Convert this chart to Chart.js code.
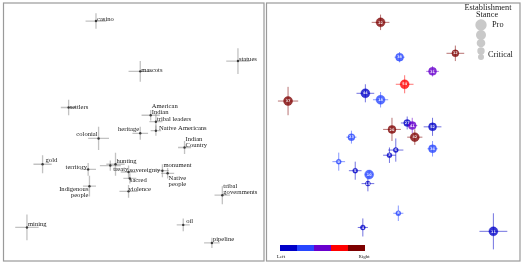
<!DOCTYPE html>
<html>
<head>
<meta charset="utf-8">
<script src="https://cdn.jsdelivr.net/npm/chart.js@4/dist/chart.umd.min.js"></script>
<style>
  body { margin: 0; background: #fff; }
  #wrap { position: relative; width: 523px; height: 264px; }
  canvas { position: absolute; top: 0; }
</style>
</head>
<body>
<div id="wrap">
  <canvas id="words" width="265" height="264" style="left:0"></canvas>
  <canvas id="outlets" width="258" height="264" style="left:265px"></canvas>
</div>
<script>
// left panel: word positions with uncertainty
const words = ['casino', 'statues', 'mascots', 'settlers', 'American Indian', 'tribal leaders', 'heritage',
  'Native Americans', 'Indian Country', 'colonial', 'gold', 'territory', 'hunting', 'treaty', 'sovereignty',
  'monument', 'Native people', 'sacred', 'Indigenous people', 'violence', 'tribal governments', 'mining', 'oil', 'pipeline'];
const wordX = [-0.29, 0.80, 0.05, -0.50, 0.13, 0.17, 0.05, 0.17, 0.39, -0.27, -0.70, -0.35, -0.14, -0.18, -0.04,
  0.22, 0.26, -0.03, -0.34, -0.04, 0.68, -0.82, 0.38, 0.60];
const wordY = [0.86, 0.55, 0.47, 0.19, 0.13, 0.08, -0.01, 0.01, -0.12, -0.05, -0.25, -0.29, -0.25, -0.26, -0.31,
  -0.30, -0.32, -0.36, -0.42, -0.46, -0.49, -0.74, -0.72, -0.86];
const wordXErr = [0.08, 0.09, 0.09, 0.06, 0.07, 0.05, 0.06, 0.04, 0.05, 0.08, 0.07, 0.06, 0.07, 0.08, 0.06,
  0.05, 0.05, 0.05, 0.05, 0.07, 0.06, 0.09, 0.05, 0.06];
const wordYErr = [0.06, 0.10, 0.08, 0.06, 0.04, 0.06, 0.05, 0.04, 0.05, 0.09, 0.07, 0.05, 0.09, 0.04, 0.05,
  0.05, 0.04, 0.04, 0.08, 0.05, 0.07, 0.10, 0.05, 0.04];

// right panel: outlets
const outletIds = ['22', '38', '12', '31', '54', '37', '44', '18', '20', '27', '41', '42', '52', '34', '6', '3',
  '23', '9', '5', '10', '15', '8', '4', '11'];
const outletX = [-0.10, 0.05, 0.49, 0.31, 0.09, -0.83, -0.22, -0.10, -0.01, 0.11, 0.15, 0.17, 0.31, 0.31, 0.02,
  -0.03, -0.33, -0.43, -0.30, -0.19, -0.20, 0.04, -0.24, 0.79];
const outletY = [0.85, 0.58, 0.61, 0.47, 0.37, 0.24, 0.30, 0.25, 0.02, 0.07, 0.05, -0.04, 0.04, -0.13, -0.14,
  -0.18, -0.04, -0.23, -0.30, -0.33, -0.40, -0.63, -0.74, -0.77];
const outletXErr = [0.07, 0.04, 0.07, 0.05, 0.07, 0.08, 0.07, 0.06, 0.07, 0.05, 0.04, 0.06, 0.07, 0.04, 0.06,
  0.05, 0.04, 0.05, 0.05, 0.03, 0.05, 0.04, 0.04, 0.11];
const outletYErr = [0.06, 0.04, 0.06, 0.04, 0.07, 0.11, 0.07, 0.06, 0.09, 0.05, 0.06, 0.06, 0.07, 0.06, 0.09,
  0.06, 0.05, 0.07, 0.07, 0.03, 0.06, 0.06, 0.07, 0.14];
const outletLean = [5, 2, 5, 3, 4, 5, 1, 2, 5, 1, 3, 5, 1, 2, 1, 1, 2, 2, 1, 2, 1, 2, 1, 1];   // 1 = Left .. 5 = Right
const outletStance = [5, 4, 3, 4, 5, 5, 5, 5, 4, 3, 4, 5, 4, 4, 1, 1, 3, 1, 1, 5, 1, 1, 1, 5]; // 1 = Critical .. 5 = Pro

const leanColors = [[0, 0, 200], [40, 70, 255], [105, 0, 205], [255, 0, 0], [125, 0, 0]];
const rgba = (c, a) => `rgba(${c[0]},${c[1]},${c[2]},${a})`;
const serif = '"Liberation Serif", "DejaVu Serif", serif';

// where each word label sits next to its point (px)
const labelPlace = {
  'mascots': { dy: 1 }, 'settlers': { dy: 2 },
  'American Indian': { dy: -7, lines: ['American', 'Indian'] },
  'tribal leaders': { dy: -1 }, 'heritage': { dy: -2.5, side: 'left' },
  'Native Americans': { dx: 3, dy: -0.5 },
  'Indian Country': { dy: -6, lines: ['Indian', 'Country'] },
  'colonial': { dy: -2, side: 'left' }, 'gold': { dx: 3, dy: -2 },
  'territory': { dy: 0, side: 'left' }, 'hunting': { dy: -1 }, 'treaty': { dx: 3, dy: 5 },
  'monument': { dy: -4 }, 'Native people': { dy: 7, lines: ['Native', 'people'] },
  'sacred': { dx: 0, dy: 4 }, 'Indigenous people': { dy: 5, side: 'left', lines: ['Indigenous', 'people'] },
  'violence': { dx: 0 }, 'tribal governments': { dy: -7, lines: ['tribal', 'governments'] },
  'mining': { dy: -1 }, 'oil': { dx: 3, dy: -2 }, 'pipeline': { dy: -2 }
};

const scales = {
  x: { type: 'linear', min: -1, max: 1, display: false },
  y: { type: 'linear', min: -1, max: 1, display: false }
};

// crosshair error bars, drawn under the points
function errorBars(xErr, yErr, colorFn, width) {
  return {
    id: 'errorBars',
    beforeDatasetsDraw(chart) {
      const { ctx, scales: { x, y } } = chart;
      const pts = chart.data.datasets[0].data;
      ctx.save();
      ctx.lineWidth = width;
      pts.forEach((p, i) => {
        ctx.strokeStyle = colorFn(i);
        const px = x.getPixelForValue(p.x), py = y.getPixelForValue(p.y);
        ctx.beginPath();
        ctx.moveTo(x.getPixelForValue(p.x - xErr[i]), py);
        ctx.lineTo(x.getPixelForValue(p.x + xErr[i]), py);
        ctx.moveTo(px, y.getPixelForValue(p.y - yErr[i]));
        ctx.lineTo(px, y.getPixelForValue(p.y + yErr[i]));
        ctx.stroke();
      });
      ctx.restore();
    }
  };
}

const frame = {
  id: 'frame',
  afterDraw(chart) {
    const { ctx, chartArea: a } = chart;
    ctx.save();
    ctx.strokeStyle = '#9a9a9a';
    ctx.lineWidth = 1.2;
    ctx.strokeRect(a.left, a.top, a.right - a.left, a.bottom - a.top);
    ctx.restore();
  }
};

const wordLabels = {
  id: 'wordLabels',
  afterDatasetsDraw(chart) {
    const { ctx, scales: { x, y } } = chart;
    ctx.save();
    ctx.font = '6.6px ' + serif;
    ctx.fillStyle = '#1a1a1a';
    ctx.textBaseline = 'alphabetic';
    words.forEach((w, i) => {
      const o = labelPlace[w] || {};
      const dx = o.dx !== undefined ? o.dx : 1;
      const dy = o.dy !== undefined ? o.dy : 0;
      const left = o.side === 'left';
      ctx.textAlign = left ? 'right' : 'left';
      const px = x.getPixelForValue(wordX[i]), py = y.getPixelForValue(wordY[i]);
      (o.lines || [w]).forEach((line, k) => {
        ctx.fillText(line, left ? px - dx : px + dx, py + dy + k * 5.5);
      });
    });
    ctx.restore();
  }
};

new Chart(document.getElementById('words'), {
  type: 'scatter',
  data: {
    datasets: [{
      data: words.map((w, i) => ({ x: wordX[i], y: wordY[i] })),
      pointRadius: 1.2,
      backgroundColor: '#3a3a3a',
      borderWidth: 0
    }]
  },
  options: {
    responsive: false,
    animation: false,
    devicePixelRatio: 1,
    layout: { autoPadding: false, padding: { left: 3.5, right: 1, top: 3, bottom: 3 } },
    plugins: { legend: { display: false }, tooltip: { enabled: false } },
    scales
  },
  plugins: [errorBars(wordXErr, wordYErr, () => 'rgba(120,120,120,0.45)', 1.3), wordLabels, frame]
});

const stanceRadius = s => 2 + 0.5 * s;

const outletExtras = {
  id: 'outletExtras',
  afterDatasetsDraw(chart) {
    const { ctx, scales: { x, y } } = chart;
    ctx.save();
    ctx.font = 'bold 3.4px "DejaVu Sans", sans-serif';
    ctx.fillStyle = 'rgba(255,255,255,0.9)';
    ctx.textAlign = 'center';
    ctx.textBaseline = 'middle';
    outletIds.forEach((id, i) => {
      ctx.fillText(id, x.getPixelForValue(outletX[i]), y.getPixelForValue(outletY[i]) + 0.3);
    });
    ctx.restore();
  },
  afterDraw(chart) {
    const { ctx, chartArea: a } = chart;
    ctx.save();
    // size legend
    const lx = a.right - 39;
    const sizes = [[25, 5.7], [35, 5], [43, 4.3], [51, 3.7], [57, 3]];
    ctx.fillStyle = '#c9c9c9';
    sizes.forEach(([cy, r]) => {
      ctx.beginPath();
      ctx.arc(lx, cy, r, 0, Math.PI * 2);
      ctx.fill();
    });
    ctx.fillStyle = '#1a1a1a';
    ctx.font = '8.3px ' + serif;
    ctx.textAlign = 'center';
    ctx.textBaseline = 'middle';
    ctx.fillText('Establishment', a.right - 32, 7.5);
    ctx.fillText('Stance', a.right - 33, 14.5);
    ctx.textAlign = 'left';
    ctx.fillText('Pro', a.right - 28, 25);
    ctx.fillText('Critical', a.right - 32, 55);
    // lean colour bar
    const bx = a.left + 13.5, bw = 17, by = 245, bh = 6;
    leanColors.forEach((c, i) => {
      ctx.fillStyle = rgba(c, 1);
      ctx.fillRect(bx + i * bw, by, bw, bh);
    });
    ctx.fillStyle = '#1a1a1a';
    ctx.font = '5px ' + serif;
    ctx.textAlign = 'center';
    ctx.fillText('Left', bx + 1, 256.5);
    ctx.fillText('Right', bx + 5 * bw - 1, 257);
    ctx.restore();
  }
};

new Chart(document.getElementById('outlets'), {
  type: 'scatter',
  data: {
    datasets: [{
      data: outletIds.map((id, i) => ({ x: outletX[i], y: outletY[i] })),
      pointRadius: ctx => stanceRadius(outletStance[ctx.dataIndex]),
      backgroundColor: ctx => rgba(leanColors[outletLean[ctx.dataIndex] - 1], 0.78),
      borderColor: ctx => rgba(leanColors[outletLean[ctx.dataIndex] - 1], 0.35),
      borderWidth: 1
    }]
  },
  options: {
    responsive: false,
    animation: false,
    devicePixelRatio: 1,
    layout: { autoPadding: false, padding: { left: 1.5, right: 3, top: 3, bottom: 3 } },
    plugins: { legend: { display: false }, tooltip: { enabled: false } },
    scales
  },
  plugins: [errorBars(outletXErr, outletYErr, i => rgba(leanColors[outletLean[i] - 1], 0.55), 1), outletExtras, frame]
});
</script>
</body>
</html>
